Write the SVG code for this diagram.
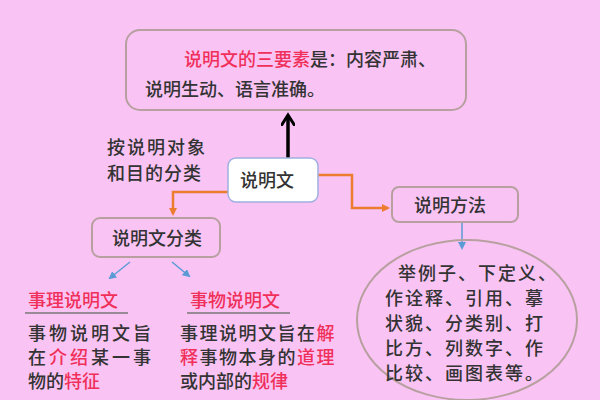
<svg xmlns="http://www.w3.org/2000/svg" width="600" height="400" viewBox="0 0 600 400">
<defs>
<style>
text{font-family:"Noto Sans CJK SC","Liberation Sans",sans-serif;fill:#333;font-size:18px;font-weight:500}
.r{fill:#f0305a}
.box{fill:none;stroke:#b8a0a0;stroke-width:2}
.o{fill:none;stroke:#ec7d30;stroke-width:2.5}
.b{fill:none;stroke:#5b9bd5;stroke-width:1.5}
</style>
<marker id="ao" markerWidth="8" markerHeight="8" refX="6" refY="4" orient="auto" markerUnits="userSpaceOnUse"><path d="M0,0L8,4L0,8z" fill="#ec7d30"/></marker>
<marker id="ab" markerWidth="8" markerHeight="8" refX="6" refY="4" orient="auto" markerUnits="userSpaceOnUse"><path d="M0,0L8,4L0,8z" fill="#5b9bd5"/></marker>
<marker id="ak" markerWidth="14" markerHeight="14" refX="10" refY="7" orient="auto" markerUnits="userSpaceOnUse"><path d="M0,0L11,7L0,14" fill="none" stroke="#000" stroke-width="3"/></marker>
</defs>
<rect width="600" height="400" fill="#f9c4f4"/>
<g id="connectors">
<path d="M288,158V116" stroke="#000" stroke-width="3.5" fill="none" marker-end="url(#ak)"/>
<path class="o" d="M228,192H173V214" marker-end="url(#ao)"/>
<path class="o" d="M318,175H352V208H388" marker-end="url(#ao)"/>
<path class="b" d="M462,222V248" marker-end="url(#ab)"/>
<path class="b" d="M130,262L110,278" marker-end="url(#ab)"/>
<path class="b" d="M172,262L189,276" marker-end="url(#ab)"/>
</g>
<g id="top"><rect class="box" x="126" y="30" width="340" height="80" rx="14"/>
<text x="184" y="66"><tspan class="r">说明文的三要素</tspan>是：内容严肃、</text>
<text x="145" y="96">说明生动、语言准确。</text></g>
<g id="center"><rect x="228" y="158" width="90" height="44" rx="8" fill="#fff" stroke="#9fb0e0" stroke-width="1.5"/>
<text x="240" y="187">说明文</text></g>
<text x="107" y="154" letter-spacing="2">按说明对象</text>
<text x="107" y="180" letter-spacing="1">和目的分类</text>
<g id="fenlei"><rect class="box" x="92" y="218" width="128" height="39" rx="8"/>
<text x="112" y="245">说明文分类</text></g>
<g id="fangfa"><rect class="box" x="392" y="187" width="126" height="35" rx="7"/>
<text x="414" y="212">说明方法</text></g>
<g id="methods"><ellipse class="box" cx="467" cy="320" rx="110" ry="80"/>
<text x="398" y="280" letter-spacing="2">举例子、下定义、</text>
<text x="385" y="305" letter-spacing="2">作诠释、引用、摹</text>
<text x="385" y="330" letter-spacing="2">状貌、分类别、打</text>
<text x="385" y="355" letter-spacing="2">比方、列数字、作</text>
<text x="385" y="380" letter-spacing="2">比较、画图表等。</text></g>
<g id="shili"><text class="r" x="28" y="307">事理说明文</text>
<path d="M25,313H128" stroke="#777" stroke-width="1.5"/>
<text x="28" y="340" letter-spacing="3">事物说明文旨</text>
<text x="28" y="364" letter-spacing="3">在<tspan class="r">介绍</tspan>某一事</text>
<text x="28" y="388">物的<tspan class="r">特征</tspan></text></g>
<g id="shiwu"><text class="r" x="190" y="307">事物说明文</text>
<path d="M187,313H290" stroke="#777" stroke-width="1.5"/>
<text x="180" y="340" letter-spacing="1.5">事理说明文旨在<tspan class="r">解</tspan></text>
<text x="180" y="364" letter-spacing="1.5"><tspan class="r">释</tspan>事物本身的<tspan class="r">道理</tspan></text>
<text x="180" y="388">或内部的<tspan class="r">规律</tspan></text></g>
</svg>
